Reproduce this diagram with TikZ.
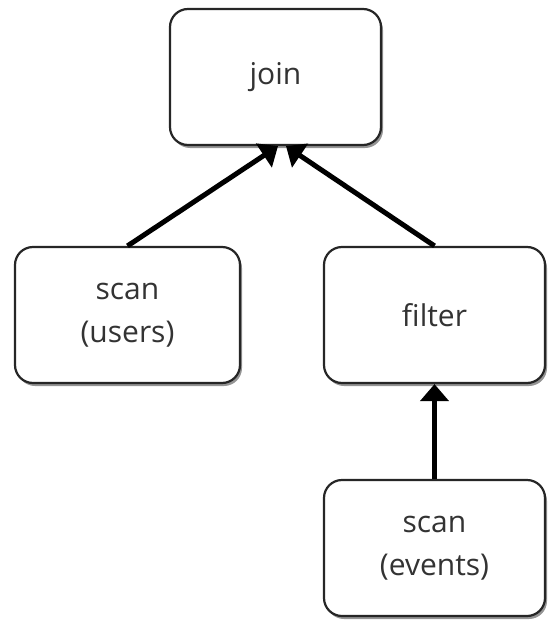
\documentclass[tikz,border=0pt]{standalone}
\usepackage{fontspec}
\setmainfont{Open Sans}
\usetikzlibrary{arrows.meta,shadows}
\begin{document}
\begin{tikzpicture}[x=1pt,y=-1pt,
  opbox/.style={draw=black!85, line width=2.2pt, rounded corners=18pt, fill=white,
    minimum width=#1, minimum height=136pt, align=center, text=black!80,
    font=\fontsize{30}{43}\selectfont, inner sep=0pt,
    drop shadow={shadow xshift=2pt, shadow yshift=-3pt, fill=black!60, opacity=0.7}},
  flow/.style={line width=5pt, -{Triangle[length=17pt,width=28pt]}}]
\useasboundingbox (0,0) rectangle (549,621);
\node[opbox=211pt] (join) at (275.5,77) {join};
\node[opbox=225pt] (users) at (127.5,315) {scan\\(users)};
\node[opbox=221pt] (filter) at (434.5,315) {filter};
\node[opbox=221pt] (events) at (434.5,548) {scan\\(events)};
\draw[flow] (users.north) -- (join.south -| 278,0);
\draw[flow] (filter.north) -- (join.south -| 286,0);
\draw[flow] (events.north) -- (filter.south);
\end{tikzpicture}
\end{document}
